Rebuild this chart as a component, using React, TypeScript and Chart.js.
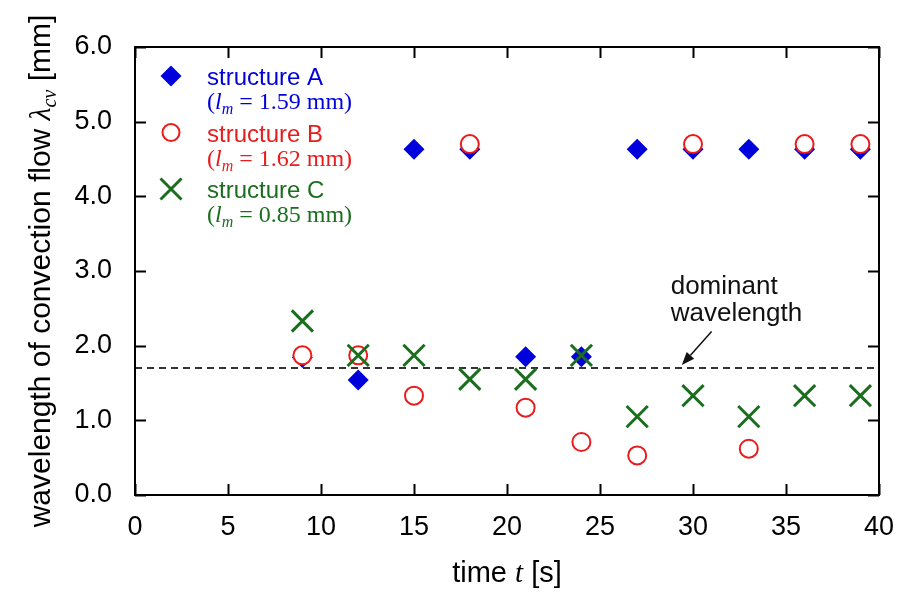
import React, { useEffect, useRef } from "react";
import { Chart, registerables } from "chart.js";

Chart.register(...registerables);

// ---- data ----
const timeS = [9, 12, 15, 18, 21, 24, 27, 30, 33, 36, 39];
const structureA = [1.84, 1.54, 4.63, 4.63, 1.85, 1.85, 4.63, 4.63, 4.63, 4.63, 4.63];
const structureB = [1.87, 1.87, 1.33, 4.7, 1.17, 0.71, 0.53, 4.7, 0.62, 4.7, 4.7];
const structureC = [2.33, 1.87, 1.87, 1.55, 1.55, 1.87, 1.05, 1.33, 1.05, 1.33, 1.33];
const dominantWavelength = 1.7;
const xTickValues = [0, 5, 10, 15, 20, 25, 30, 35, 40];
const yTickValues = [0, 1, 2, 3, 4, 5, 6];
const seriesNames = ["structure A", "structure B", "structure C"];
const seriesLm = ["1.59", "1.62", "0.85"];
const annotationLines = ["dominant", "wavelength"];

const BLUE = "#0000dd";
const RED = "#e81c1c";
const GREEN = "#1a6e1e";
const SANS = "'Liberation Sans', Arial, sans-serif";
const SERIF = "'Liberation Serif', 'Times New Roman', serif";

const toPts = (ys: number[]) => timeS.map((x, i) => ({ x, y: ys[i] }));

function drawMarker(ctx: CanvasRenderingContext2D, kind: number, x: number, y: number) {
  ctx.save();
  if (kind === 0) {
    const r = 10.5;
    ctx.fillStyle = BLUE;
    ctx.beginPath();
    ctx.moveTo(x - r, y);
    ctx.lineTo(x, y - r);
    ctx.lineTo(x + r, y);
    ctx.lineTo(x, y + r);
    ctx.closePath();
    ctx.fill();
  } else if (kind === 1) {
    ctx.strokeStyle = RED;
    ctx.fillStyle = "#fff";
    ctx.lineWidth = 2;
    ctx.beginPath();
    ctx.arc(x, y, 8.5, 0, Math.PI * 2);
    ctx.fill();
    ctx.stroke();
  } else {
    const h = 10.5;
    ctx.strokeStyle = GREEN;
    ctx.lineWidth = 3;
    ctx.beginPath();
    ctx.moveTo(x - h, y - h);
    ctx.lineTo(x + h, y + h);
    ctx.moveTo(x + h, y - h);
    ctx.lineTo(x - h, y + h);
    ctx.stroke();
  }
  ctx.restore();
}

const framePlugin = {
  id: "frameAndText",
  afterDraw(chart: any) {
    const ctx: CanvasRenderingContext2D = chart.ctx;
    const { left, right, top, bottom } = chart.chartArea;
    const xs = chart.scales.x;
    const ys = chart.scales.y;
    ctx.save();
    // frame
    ctx.strokeStyle = "#000";
    ctx.lineWidth = 2;
    ctx.strokeRect(left, top, right - left, bottom - top);
    // inward ticks
    const tl = 11;
    ctx.beginPath();
    xTickValues.forEach((v) => {
      const px = Math.round(xs.getPixelForValue(v)) + 0.5;
      ctx.moveTo(px, bottom);
      ctx.lineTo(px, bottom - tl);
      ctx.moveTo(px, top);
      ctx.lineTo(px, top + tl);
    });
    yTickValues.forEach((v) => {
      const py = Math.round(ys.getPixelForValue(v)) + 0.5;
      ctx.moveTo(left, py);
      ctx.lineTo(left + tl, py);
      ctx.moveTo(right, py);
      ctx.lineTo(right - tl, py);
    });
    ctx.stroke();

    // legend
    ctx.textBaseline = "alphabetic";
    ctx.textAlign = "left";
    const colors = [BLUE, RED, GREEN];
    const mx = left + 36;
    const tx = left + 72;
    seriesNames.forEach((name, i) => {
      const by = top + 38 + i * 56.5;
      drawMarker(ctx, i, mx, by - 9);
      ctx.fillStyle = colors[i];
      ctx.font = `24px ${SANS}`;
      ctx.fillText(name, tx, by);
      const by2 = by + 24;
      let cx = tx;
      ctx.font = `24px ${SERIF}`;
      ctx.fillText("(", cx, by2);
      cx += ctx.measureText("(").width;
      ctx.font = `italic 24px ${SERIF}`;
      ctx.fillText("l", cx, by2);
      cx += ctx.measureText("l").width;
      ctx.font = `italic 16px ${SERIF}`;
      ctx.fillText("m", cx, by2 + 5);
      cx += ctx.measureText("m").width;
      ctx.font = `24px ${SERIF}`;
      ctx.fillText(` = ${seriesLm[i]} mm)`, cx, by2);
    });

    // x title
    ctx.fillStyle = "#000";
    const xParts: [string, string][] = [
      ["time ", `29px ${SANS}`],
      ["t", `italic 29px ${SERIF}`],
      [" [s]", `29px ${SANS}`],
    ];
    let total = 0;
    xParts.forEach(([t, f]) => {
      ctx.font = f;
      total += ctx.measureText(t).width;
    });
    let cx = (left + right) / 2 - total / 2;
    xParts.forEach(([t, f]) => {
      ctx.font = f;
      ctx.fillText(t, cx, 582);
      cx += ctx.measureText(t).width;
    });

    // y title (rotated)
    const yParts: [string, string, number][] = [
      ["wavelength of convection flow ", `30px ${SANS}`, 0],
      ["λ", `italic 30px ${SERIF}`, 0],
      ["cv", `italic 20px ${SERIF}`, 6],
      [" [mm]", `30px ${SANS}`, 0],
    ];
    let ytotal = 0;
    yParts.forEach(([t, f]) => {
      ctx.font = f;
      ytotal += ctx.measureText(t).width;
    });
    ctx.save();
    ctx.translate(50, (top + bottom) / 2);
    ctx.rotate(-Math.PI / 2);
    let yy = -ytotal / 2;
    yParts.forEach(([t, f, dy]) => {
      ctx.font = f;
      ctx.fillText(t, yy, dy);
      yy += ctx.measureText(t).width;
    });
    ctx.restore();

    // annotation
    ctx.font = `26px ${SANS}`;
    ctx.fillStyle = "#111";
    const ax = xs.getPixelForValue(28.8);
    ctx.fillText(annotationLines[0], ax, ys.getPixelForValue(2.69));
    ctx.fillText(annotationLines[1], ax, ys.getPixelForValue(2.33));
    const x1 = xs.getPixelForValue(31.0);
    const y1 = ys.getPixelForValue(2.19);
    const x2 = xs.getPixelForValue(29.4);
    const y2 = ys.getPixelForValue(1.74);
    const ang = Math.atan2(y2 - y1, x2 - x1);
    const hl = 13;
    const hw = 5;
    const bx = x2 - hl * Math.cos(ang);
    const byy = y2 - hl * Math.sin(ang);
    ctx.strokeStyle = "#111";
    ctx.lineWidth = 1.5;
    ctx.beginPath();
    ctx.moveTo(x1, y1);
    ctx.lineTo(bx, byy);
    ctx.stroke();
    ctx.beginPath();
    ctx.moveTo(x2, y2);
    ctx.lineTo(bx + hw * Math.sin(ang), byy - hw * Math.cos(ang));
    ctx.lineTo(bx - hw * Math.sin(ang), byy + hw * Math.cos(ang));
    ctx.closePath();
    ctx.fill();
    ctx.restore();
  },
};

export default function App() {
  const ref = useRef<HTMLCanvasElement | null>(null);
  useEffect(() => {
    document.body.style.margin = "0";
    const canvas = ref.current;
    if (!canvas) return;
    const chart = new Chart(canvas, {
      type: "scatter",
      data: {
        datasets: [
          {
            type: "line",
            label: "dominant",
            data: [
              { x: 0, y: dominantWavelength },
              { x: 40, y: dominantWavelength },
            ],
            borderColor: "#333",
            borderWidth: 2,
            borderDash: [7, 5],
            pointRadius: 0,
            order: 4,
          } as any,
          {
            label: seriesNames[0],
            data: toPts(structureA),
            pointStyle: "rectRot",
            pointRadius: 10.5,
            backgroundColor: BLUE,
            borderColor: BLUE,
            borderWidth: 0,
            order: 3,
          },
          {
            label: seriesNames[1],
            data: toPts(structureB),
            pointStyle: "circle",
            pointRadius: 9,
            backgroundColor: "#ffffff",
            borderColor: RED,
            borderWidth: 2,
            order: 2,
          },
          {
            label: seriesNames[2],
            data: toPts(structureC),
            pointStyle: "crossRot",
            pointRadius: 15,
            backgroundColor: GREEN,
            borderColor: GREEN,
            borderWidth: 3,
            order: 1,
          },
        ],
      },
      options: {
        responsive: false,
        animation: false,
        devicePixelRatio: 1,
        layout: { padding: { left: 0, right: 22, top: 47, bottom: 0 } },
        plugins: { legend: { display: false }, tooltip: { enabled: false } },
        scales: {
          x: {
            type: "linear",
            min: 0,
            max: 40,
            afterFit: (s: any) => {
              s.height = 102;
              s.paddingLeft = 0;
              s.paddingRight = 0;
            },
            afterBuildTicks: (s: any) => {
              s.ticks = xTickValues.map((v) => ({ value: v }));
            },
            grid: { display: false, drawTicks: false },
            border: { display: false },
            ticks: {
              padding: 16,
              color: "#000",
              font: { family: SANS, size: 27 },
              callback: (v: any) => String(v),
            },
          },
          y: {
            type: "linear",
            min: 0,
            max: 6,
            afterFit: (s: any) => {
              s.width = 135;
              s.paddingTop = 0;
              s.paddingBottom = 0;
            },
            afterBuildTicks: (s: any) => {
              s.ticks = yTickValues.map((v) => ({ value: v }));
            },
            grid: { display: false, drawTicks: false },
            border: { display: false },
            ticks: {
              padding: 23,
              color: "#000",
              font: { family: SANS, size: 27 },
              callback: (v: any) => Number(v).toFixed(1),
            },
          },
        },
      },
      plugins: [framePlugin],
    });
    return () => chart.destroy();
  }, []);
  return (
    <div style={{ width: 901, height: 597 }}>
      <canvas ref={ref} width={901} height={597} style={{ display: "block" }} />
    </div>
  );
}
